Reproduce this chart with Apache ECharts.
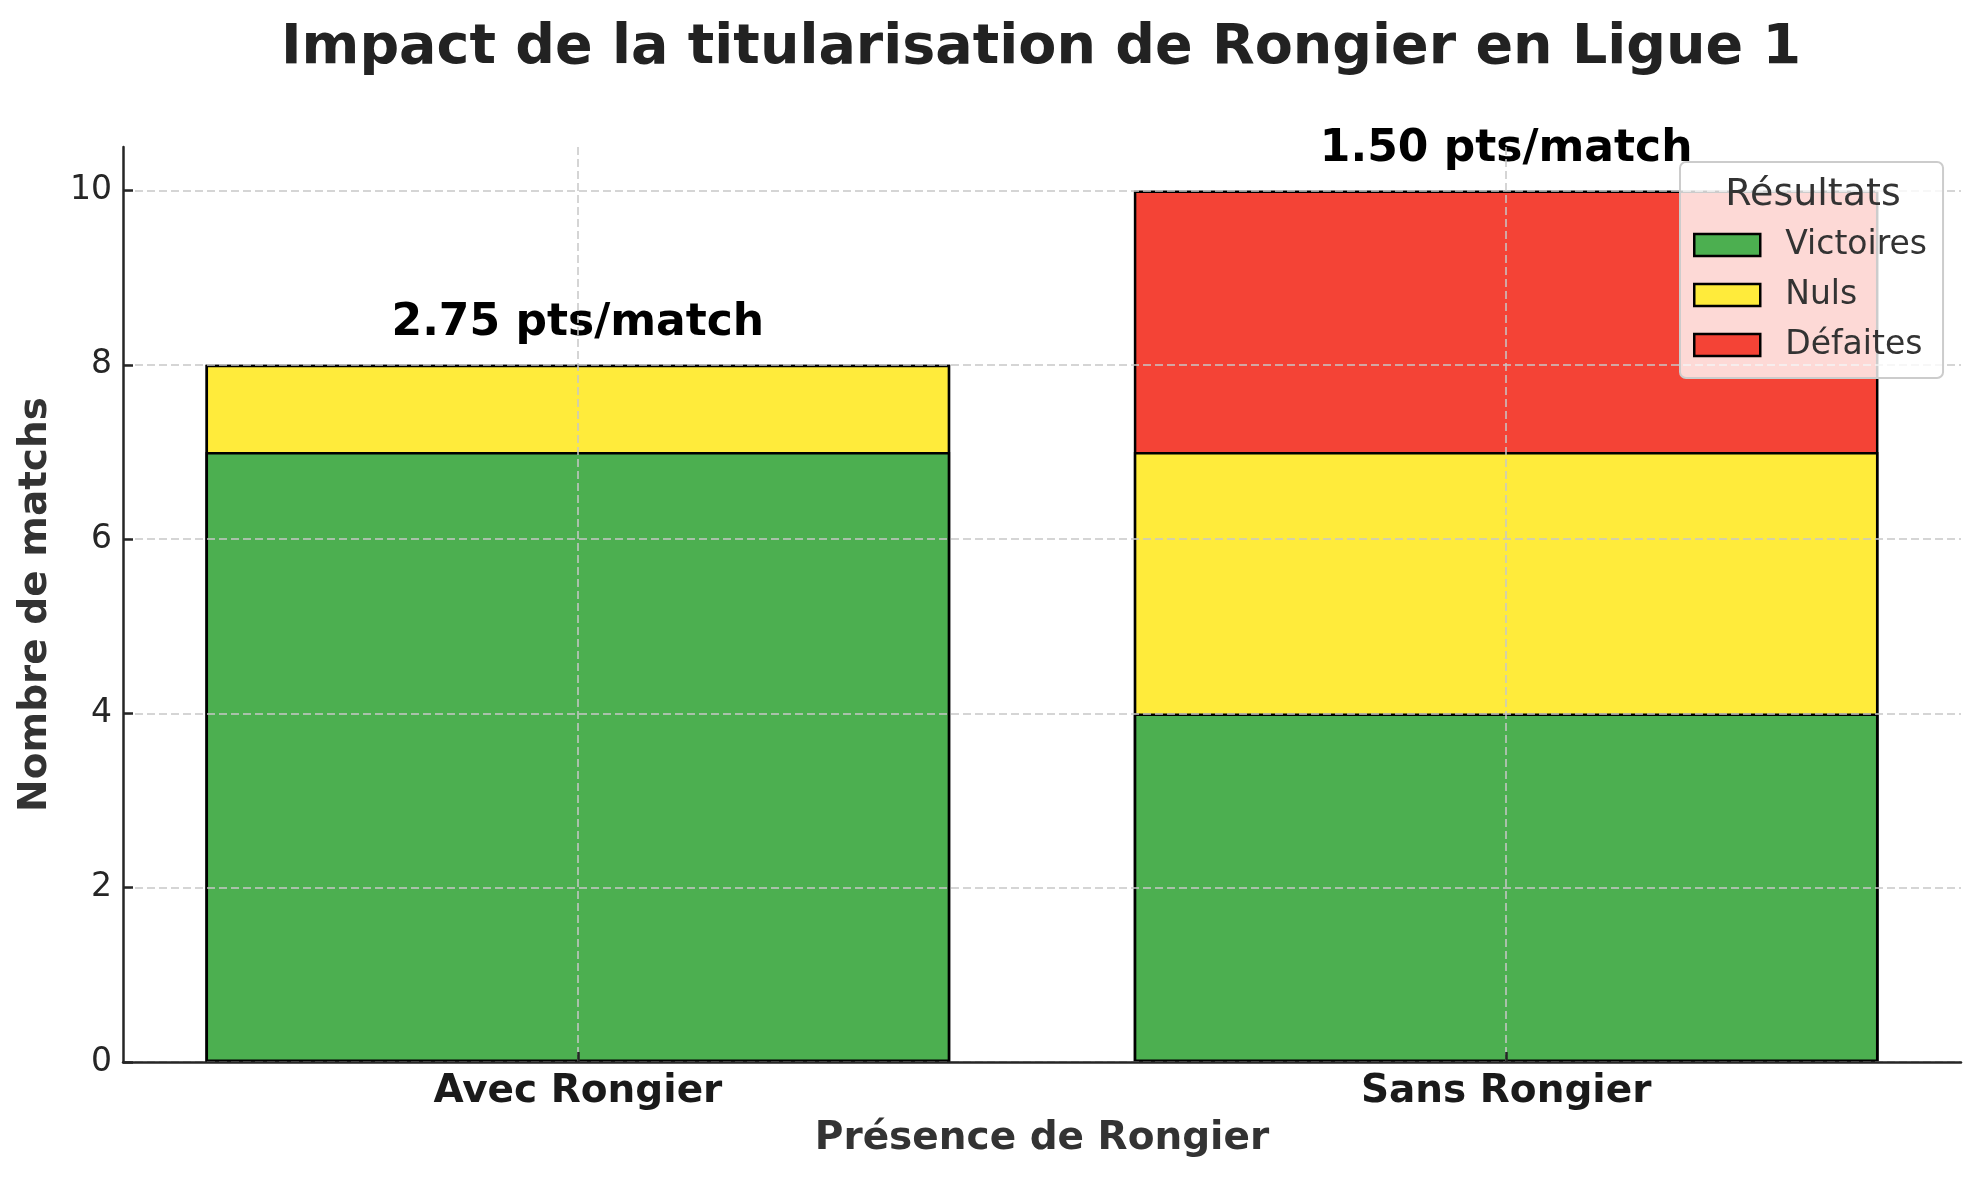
<!DOCTYPE html>
<html><head><meta charset="utf-8">
<script src="https://cdn.jsdelivr.net/npm/echarts@6/dist/echarts.min.js"></script>
<style>html,body{margin:0;padding:0;background:#fff}#c{width:1979px;height:1180px}</style>
</head><body><div id="c"></div>
<script>
const categories = ['Avec Rongier', 'Sans Rongier'];
const victoires = [7, 4];
const nuls = [1, 3];
const defaites = [0, 3];
const ptsParMatch = [2.75, 1.50];
const yTicks = [0, 2, 4, 6, 8, 10];
const xTicks = [0, 1];

const FONT = 'DejaVu Sans';
const grid = { left: 123, top: 147, width: 1838, height: 915 };
const xMin = -0.49, xMax = 1.49;
const barW = 0.8 * grid.width / (xMax - xMin) + 2;

// stacked tops (segments are drawn as overlapping bars, largest first)
const topVictoires = victoires.slice();
const topNuls = victoires.map((v, i) => v + nuls[i]);
const topDefaites = topNuls.map((v, i) => v + defaites[i]);

const edge = { borderColor: '#000', borderWidth: 2.5 };
function mk(name, arr, color, extra) {
  return Object.assign({
    name, type: 'bar', barWidth: barW, barGap: '-100%',
    data: arr.map((v, i) => [xTicks[i], v]),
    itemStyle: Object.assign({ color }, edge),
    emphasis: { disabled: true }
  }, extra || {});
}

const chart = echarts.init(document.getElementById('c'));
chart.setOption({
  animation: false,
  backgroundColor: '#fff',
  title: {
    text: 'Impact de la titularisation de Rongier en Ligue 1',
    left: 1036, top: 16, textAlign: 'center',
    textStyle: { fontFamily: FONT, fontSize: 55.5, fontWeight: 'bold', color: '#222' }
  },
  grid: grid,
  legend: {
    orient: 'vertical', left: 1680, top: 162,
    padding: [64, 16, 14, 13],
    backgroundColor: 'rgba(255,255,255,0.8)', borderColor: '#cccccc', borderWidth: 2, borderRadius: 6,
    icon: 'rect', itemWidth: 66, itemHeight: 22, itemGap: 12,
    textStyle: { fontFamily: FONT, fontSize: 33, lineHeight: 38, color: '#333', padding: [0, 0, 0, 20] },
    itemStyle: { borderColor: '#000', borderWidth: 2.5 },
    data: ['Victoires', 'Nuls', 'Défaites']
  },
  graphic: [{
    type: 'text', z: 100, x: 1813, y: 176,
    style: { text: 'Résultats', fontFamily: FONT, fontSize: 38, fill: '#333', align: 'center', textAlign: 'center' }
  }],
  xAxis: {
    type: 'value', min: xMin, max: xMax, z: 3,
    name: 'Présence de Rongier', nameLocation: 'middle', nameGap: 57,
    nameTextStyle: { fontFamily: FONT, fontSize: 39, fontWeight: 'bold', color: '#333' },
    axisLine: { show: true, onZero: false, lineStyle: { color: '#262626', width: 2.5 } },
    axisTick: { show: true, inside: true, length: 10, customValues: xTicks, lineStyle: { color: '#262626', width: 2.5 } },
    axisLabel: { customValues: xTicks, margin: 10, formatter: v => categories[Math.round(v)],
      fontFamily: FONT, fontSize: 39, fontWeight: 'bold', color: '#1a1a1a' },
    splitLine: { show: true, lineStyle: { color: '#c8c8c8', width: 1.5, type: [8, 4] } }
  },
  yAxis: {
    type: 'value', min: 0, max: 10.5, z: 3,
    name: 'Nombre de matchs', nameLocation: 'middle', nameGap: 68,
    nameTextStyle: { fontFamily: FONT, fontSize: 39, fontWeight: 'bold', color: '#333' },
    axisLine: { show: true, onZero: false, lineStyle: { color: '#262626', width: 2.5 } },
    axisTick: { show: true, inside: true, length: 10, customValues: yTicks, lineStyle: { color: '#262626', width: 2.5 } },
    axisLabel: { customValues: yTicks, margin: 11, fontFamily: FONT, fontSize: 33, color: '#262626' },
    splitLine: { show: true, lineStyle: { color: '#c8c8c8', width: 1.5, type: [8, 4] } }
  },
  series: [
    mk('Défaites', topDefaites, '#F44336', {
      label: {
        show: true, position: 'top', distance: 19,
        formatter: p => ptsParMatch[p.dataIndex].toFixed(2) + ' pts/match',
        fontFamily: FONT, fontSize: 44, fontWeight: 'bold', color: '#000'
      }
    }),
    mk('Nuls', topNuls, '#FFEB3B'),
    mk('Victoires', topVictoires, '#4CAF50')
  ]
});
</script></body></html>
